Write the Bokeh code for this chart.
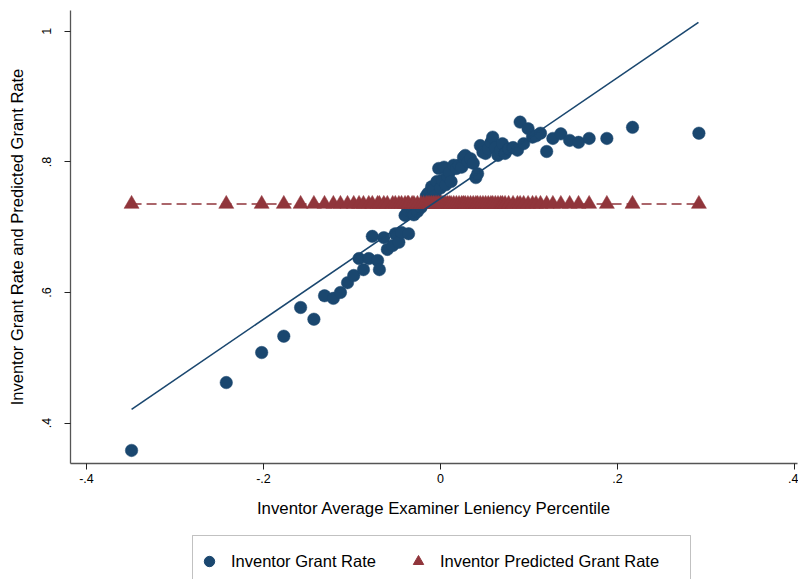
from bokeh.plotting import figure
from bokeh.layouts import column
from bokeh.models import FixedTicker, Range1d, Legend, LegendItem, ColumnDataSource, BoxAnnotation
from bokeh.embed import file_html
from bokeh.resources import INLINE

# Binned data: x = inventor average examiner leniency percentile
bin_x = [-0.349, -0.242, -0.202, -0.177, -0.158, -0.143, -0.131, -0.121, -0.113, -0.105,
         -0.098, -0.092, -0.087, -0.081, -0.077, -0.071, -0.069, -0.064, -0.060, -0.054,
         -0.051, -0.047, -0.044, -0.040, -0.037, -0.036, -0.032, -0.030, -0.026, -0.022,
         -0.019, -0.016, -0.014, -0.012, -0.010, -0.008, -0.006, -0.004, -0.002, 0.000,
         0.002, 0.004, 0.006, 0.008, 0.010, 0.012, 0.015, 0.018, 0.021, 0.024,
         0.026, 0.028, 0.031, 0.034, 0.037, 0.040, 0.042, 0.045, 0.048, 0.051,
         0.054, 0.057, 0.059, 0.062, 0.065, 0.068, 0.070, 0.073, 0.077, 0.082,
         0.087, 0.090, 0.094, 0.099, 0.104, 0.108, 0.113, 0.120, 0.127, 0.136,
         0.146, 0.156, 0.168, 0.188, 0.217, 0.292]

grant_rate = [0.358, 0.462, 0.508, 0.533, 0.577, 0.559, 0.595, 0.591, 0.600, 0.615,
              0.626, 0.652, 0.635, 0.652, 0.686, 0.649, 0.635, 0.684, 0.666, 0.672,
              0.690, 0.677, 0.692, 0.718, 0.726, 0.690, 0.721, 0.719, 0.724, 0.730,
              0.736, 0.748, 0.752, 0.744, 0.762, 0.757, 0.748, 0.770, 0.790, 0.760,
              0.772, 0.792, 0.765, 0.778, 0.784, 0.770, 0.795, 0.790, 0.795, 0.792,
              0.807, 0.810, 0.800, 0.805, 0.798, 0.776, 0.782, 0.825, 0.815, 0.813,
              0.820, 0.830, 0.838, 0.822, 0.810, 0.818, 0.828, 0.813, 0.820, 0.822,
              0.818, 0.861, 0.828, 0.851, 0.838, 0.840, 0.844, 0.816, 0.836, 0.843,
              0.833, 0.830, 0.836, 0.836, 0.853, 0.844]

predicted_rate = [0.7355, 0.7355, 0.7355, 0.7355, 0.7355, 0.7355, 0.7355, 0.7355, 0.7355, 0.7355,
                  0.7355, 0.7355, 0.7355, 0.7355, 0.7355, 0.7355, 0.7355, 0.7355, 0.7355, 0.7355,
                  0.7355, 0.7355, 0.7355, 0.7355, 0.7355, 0.7355, 0.7355, 0.7355, 0.7355, 0.7355,
                  0.7355, 0.7355, 0.7355, 0.7355, 0.7355, 0.7355, 0.7355, 0.7355, 0.7355, 0.7355,
                  0.7355, 0.7355, 0.7355, 0.7355, 0.7355, 0.7355, 0.7355, 0.7355, 0.7355, 0.7355,
                  0.7355, 0.7355, 0.7355, 0.7355, 0.7355, 0.7355, 0.7355, 0.7355, 0.7355, 0.7355,
                  0.7355, 0.7355, 0.7355, 0.7355, 0.7355, 0.7355, 0.7355, 0.7355, 0.7355, 0.7355,
                  0.7355, 0.7355, 0.7355, 0.7355, 0.7355, 0.7355, 0.7355, 0.7355, 0.7355, 0.7355,
                  0.7355, 0.7355, 0.7355, 0.7355, 0.7355, 0.7355]

# Linear fit line endpoints
fit_x = [-0.349, 0.2915]
fit_y = [0.421, 1.0138]

x_ticks = [-0.4, -0.2, 0.0, 0.2, 0.4]
x_tick_labels = ["-.4", "-.2", "0", ".2", ".4"]
y_ticks = [0.4, 0.6, 0.8, 1.0]
y_tick_labels = [".4", ".6", ".8", "1"]

NAVY = "#1a476f"
MAROON = "#90353b"
FONT = "Liberation Sans"

src = ColumnDataSource(dict(x=bin_x, g=grant_rate, p=predicted_rate))

p = figure(width=798, height=527, output_backend="svg", toolbar_location=None,
           x_range=Range1d(-0.418, 0.4034), y_range=Range1d(0.338, 1.032),
           min_border_left=70, min_border_right=1, min_border_top=10, min_border_bottom=64)
p.background_fill_color = "white"
p.border_fill_color = "white"
p.outline_line_color = None
p.grid.visible = False

circ = p.scatter("x", "g", source=src, marker="circle", size=12.5,
                 fill_color=NAVY, line_color=NAVY, line_width=0.5)
p.line("x", "p", source=src, line_color=MAROON, line_width=1.6, line_dash="10 5")
tri = p.scatter("x", "p", source=src, marker="triangle", size=15,
                fill_color=MAROON, line_color=MAROON, line_width=0.5)
p.line(fit_x, fit_y, line_color=NAVY, line_width=1.6)

for ax in (p.xaxis[0], p.yaxis[0]):
    ax.axis_line_color = "#555555"
    ax.axis_line_width = 1.3
    ax.major_tick_line_color = "#222222"
    ax.major_tick_line_width = 1
    ax.major_tick_out = 6
    ax.major_tick_in = 0
    ax.minor_tick_out = 0
    ax.minor_tick_in = 0
    ax.major_label_text_font = FONT
    ax.major_label_text_font_size = "12.5px"
    ax.major_label_text_color = "black"
    ax.axis_label_text_font = FONT
    ax.axis_label_text_font_style = "normal"
    ax.axis_label_text_color = "black"

p.xaxis.ticker = FixedTicker(ticks=x_ticks)
p.xaxis.major_label_overrides = dict(zip(x_ticks, x_tick_labels))
p.yaxis.ticker = FixedTicker(ticks=y_ticks)
p.yaxis.major_label_overrides = dict(zip(y_ticks, y_tick_labels))
p.yaxis.major_label_orientation = "vertical"

p.xaxis.axis_label = "Inventor Average Examiner Leniency Percentile"
p.yaxis.axis_label = "Inventor Grant Rate and Predicted Grant Rate"
p.xaxis.axis_label_text_font_size = "16.8px"
p.yaxis.axis_label_text_font_size = "16.5px"
p.xaxis.major_label_standoff = 4
p.xaxis.axis_label_standoff = 13
p.yaxis.major_label_standoff = 13
p.yaxis.axis_label_standoff = 14

# Legend panel below the plot; its frame is aligned with the main frame (70..797 px)
lg = figure(width=798, height=52, output_backend="svg", toolbar_location=None,
            x_range=Range1d(70, 797), y_range=Range1d(0, 52),
            x_axis_location=None, y_axis_location=None,
            min_border_left=70, min_border_right=1, min_border_top=0, min_border_bottom=0)
lg.grid.visible = False
lg.outline_line_color = None
lg.background_fill_color = "white"
lg.border_fill_color = "white"
lg_circ = lg.scatter([-100], [-100], marker="circle", size=12.5,
                     fill_color=NAVY, line_color=NAVY)
lg_tri = lg.scatter([-100], [-100], marker="triangle", size=15,
                    fill_color=MAROON, line_color=MAROON)
lg.add_layout(BoxAnnotation(left=192, right=690, bottom=-10, top=44,
                            fill_color=None, line_color="#333333", line_width=1))

legend = Legend(items=[LegendItem(label="Inventor Grant Rate", renderers=[lg_circ]),
                       LegendItem(label="Inventor Predicted Grant Rate", renderers=[lg_tri])],
                orientation="horizontal", location=(126, 5))
legend.label_text_font = FONT
legend.label_text_font_size = "16.5px"
legend.label_text_color = "black"
legend.glyph_width = 26
legend.glyph_height = 26
legend.label_standoff = 9
legend.spacing = 29
legend.padding = 8
legend.margin = 0
legend.border_line_color = None
legend.background_fill_alpha = 0
lg.add_layout(legend, "center")

layout = column(p, lg, spacing=0)
open("out.html", "w").write(file_html(layout, INLINE))
